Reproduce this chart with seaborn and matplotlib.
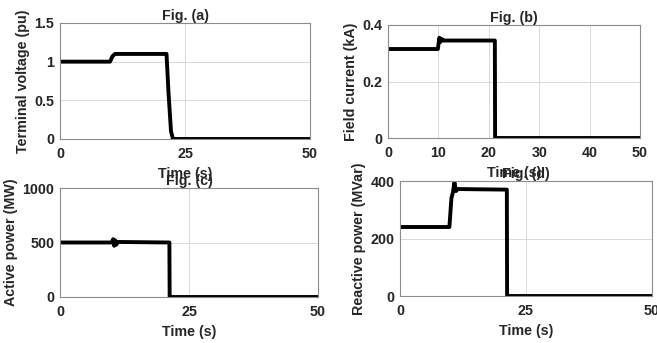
import numpy as np
import pandas as pd
import matplotlib
matplotlib.use("Agg")
import matplotlib.pyplot as plt
import seaborn as sns

sns.set_style("white")
plt.rcParams['font.family'] = ['Liberation Sans', 'DejaVu Sans']
plt.rcParams['font.weight'] = 'bold'

# Breakpoints (time in s)
time_a = [0, 10, 10.5, 11, 21.3, 21.7, 22.2, 22.6, 50]
volt_a = [1.0, 1.0, 1.07, 1.1, 1.1, 0.6, 0.1, 0.0, 0.0]

time_b = [0, 9.9, 10.0, 10.2, 10.4, 10.7, 11.0, 21.2, 21.25, 50]
curr_b = [0.315, 0.315, 0.33, 0.355, 0.34, 0.35, 0.345, 0.345, 0.0, 0.0]

time_c = [0, 10.0, 10.3, 10.5, 10.7, 10.9, 11.2, 21.2, 21.25, 50]
pow_c = [500, 500, 530, 470, 520, 480, 505, 500, 0, 0]

time_d = [0, 9.8, 10.2, 10.5, 10.8, 11.1, 11.5, 21.2, 21.25, 50]
reac_d = [240, 240, 340, 360, 395, 365, 372, 370, 0, 0]

panels = [
    (time_a, volt_a, "Fig. (a)", "Terminal voltage (pu)", [0, 0.5, 1, 1.5], ["0", "0.5", "1", "1.5"], (0, 1.5), [0, 25, 50]),
    (time_b, curr_b, "Fig. (b)", "Field current (kA)", [0, 0.2, 0.4], ["0", "0.2", "0.4"], (0, 0.4), [0, 10, 20, 30, 40, 50]),
    (time_c, pow_c, "Fig. (c)", "Active power (MW)", [0, 500, 1000], ["0", "500", "1000"], (0, 1000), [0, 25, 50]),
    (time_d, reac_d, "Fig. (d)", "Reactive power (MVar)", [0, 200, 400], ["0", "200", "400"], (0, 400), [0, 25, 50]),
]

W, H = 657, 343
fig = plt.figure(figsize=(W / 100, H / 100), dpi=100)
boxes = [
    (60, 23, 310, 139),
    (388, 25, 640, 138),
    (60, 188, 318, 297),
    (400, 181, 652, 296),
]

FS = 10.3
for (t, v, title, ylab, yt, ytl, ylim, xt), (l, tp, r, b) in zip(panels, boxes):
    ax = fig.add_axes([l / W, 1 - b / H, (r - l) / W, (b - tp) / H])
    df = pd.DataFrame({"t": t, "v": v})
    sns.lineplot(data=df, x="t", y="v", ax=ax, color="black", linewidth=2.8)
    ax.set_xlim(0, 50)
    ax.set_ylim(*ylim)
    ax.set_xticks(xt)
    ax.set_xticklabels([str(x) for x in xt])
    ax.set_yticks(yt)
    ax.set_yticklabels(ytl)
    ax.grid(True, color="#d8d8d8", linewidth=0.7)
    for s in ax.spines.values():
        s.set_color("#8c8c8c")
        s.set_linewidth(0.8)
    ax.tick_params(axis="x", labelsize=FS, length=0, pad=6, colors="#262626")
    ax.tick_params(axis="y", labelsize=FS, length=0, pad=4, colors="#262626")
    ax.set_title(title, fontsize=FS, fontweight="bold", pad=2, color="#262626")
    ax.set_ylabel(ylab, fontsize=FS, fontweight="bold", labelpad=3, color="#262626")
    ax.set_xlabel("Time (s)", fontsize=FS, fontweight="bold", labelpad=4, color="#262626")

fig.savefig("out.png", dpi=100)
